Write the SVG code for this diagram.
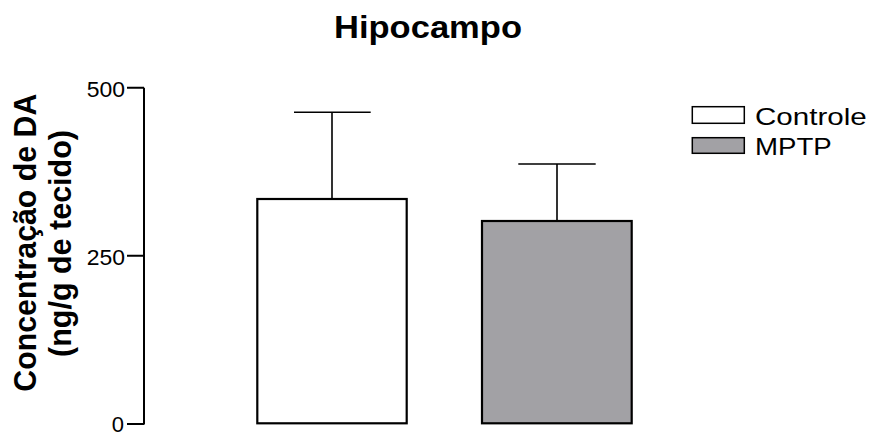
<svg xmlns="http://www.w3.org/2000/svg" width="872" height="432" viewBox="0 0 872 432">
<style>
text{font-family:"Liberation Sans",Arial,sans-serif;fill:#000}
.b{font-weight:bold}
.bar{stroke:#000;stroke-width:2.2}
.err{stroke:#000;stroke-width:1.6;fill:none}
.ax{stroke:#000;stroke-width:2;fill:none}
.tick{font-size:22px;text-anchor:end}
.leg{font-size:24px}
</style>
<rect width="872" height="432" fill="#fff"/>
<text class="b" x="428" y="38.3" font-size="31" text-anchor="middle" textLength="188" lengthAdjust="spacingAndGlyphs">Hipocampo</text>
<g id="yaxis">
<path class="ax" d="M144 87.7V424.5M127 87.7H144M127 255.7H144M127 424H144"/>
<text class="tick" x="125" y="96.7" textLength="38.3" lengthAdjust="spacingAndGlyphs">500</text>
<text class="tick" x="125" y="264.7" textLength="38.3" lengthAdjust="spacingAndGlyphs">250</text>
<text class="tick" x="124" y="432">0</text>
<text class="b" font-size="30" transform="translate(36,391.7) rotate(-90) scale(1,1.05)" textLength="298" lengthAdjust="spacingAndGlyphs">Concentração de DA</text>
<text class="b" font-size="30" transform="translate(71,357) rotate(-90) scale(1,1.05)" textLength="227" lengthAdjust="spacingAndGlyphs">(ng/g de tecido)</text>
</g>
<g id="connectors">
<path class="err" d="M332 199V112.3M294 112.3H370.7"/>
<path class="err" d="M557 221V164M518.3 164H595.7"/>
</g>
<g id="bar-controle">
<rect class="bar" x="257.3" y="199" width="149.4" height="224.3" fill="#fff"/>
</g>
<g id="bar-mptp">
<rect class="bar" x="482" y="221" width="149.7" height="202.3" fill="#a2a1a5"/>
</g>
<g id="legend-controle">
<rect x="692.3" y="106.7" width="52" height="16.6" fill="#fff" stroke="#000" stroke-width="1.5"/>
<text class="leg" x="755" y="124.5" textLength="111.7" lengthAdjust="spacingAndGlyphs">Controle</text>
</g>
<g id="legend-mptp">
<rect x="692.3" y="137.7" width="52" height="15.6" fill="#a2a1a5" stroke="#000" stroke-width="1.5"/>
<text class="leg" x="755" y="154.5" textLength="76.7" lengthAdjust="spacingAndGlyphs">MPTP</text>
</g>
</svg>
